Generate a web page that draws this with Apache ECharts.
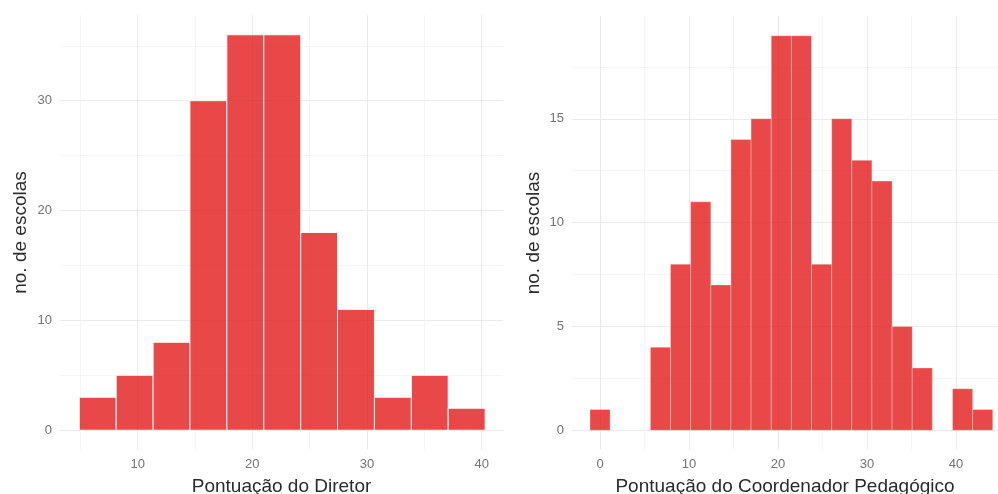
<!DOCTYPE html>
<html>
<head>
<meta charset="utf-8">
<script src="https://cdn.jsdelivr.net/npm/echarts@6/dist/echarts.min.js"></script>
<style>
  html, body { margin: 0; padding: 0; background: #fff; }
  #chart { width: 998px; height: 494px; }
</style>
</head>
<body>
<div id="chart"></div>
<script>
  // Pontuação do Diretor: limites das classes e contagens
  var diretorEdges = [4.91, 8.13, 11.35, 14.56, 17.78, 21.0, 24.22, 27.43, 30.65, 33.87, 37.08, 40.3]
  var diretorCounts = [3, 5, 8, 30, 36, 36, 18, 11, 3, 5, 2]
  var diretorXTicks = [10, 20, 30, 40]
  var diretorXMinor = [5, 15, 25, 35]
  var diretorYTicks = [0, 10, 20, 30]
  var diretorYMinor = [5, 15, 25, 35]

  // Pontuação do Coordenador Pedagógico
  var coordEdges = [-1.13, 1.13, 3.39, 5.66, 7.92, 10.18, 12.45, 14.71, 16.97, 19.24, 21.5,
    23.76, 26.03, 28.29, 30.55, 32.82, 35.08, 37.34, 39.61, 41.87, 44.13]
  var coordCounts = [1, 0, 0, 4, 8, 11, 7, 14, 15, 19, 19, 8, 15, 13, 12, 5, 3, 0, 2, 1]
  var coordXTicks = [0, 10, 20, 30, 40]
  var coordXMinor = [5, 15, 25, 35]
  var coordYTicks = [0, 5, 10, 15]
  var coordYMinor = [2.5, 7.5, 12.5, 17.5]

  var FONT = '"Liberation Sans", Arial, sans-serif'
  var chart = echarts.init(document.getElementById('chart'))

  function toBins(edges, counts) {
    var out = []
    for (var i = 0; i < counts.length; i++) {
      out.push([edges[i], edges[i + 1], counts[i]])
    }
    return out
  }

  function axis(dim, gridIndex, min, max, values, major, name, nameGap) {
    var a = {
      type: 'value',
      gridIndex: gridIndex,
      min: min,
      max: max,
      axisLine: { show: false },
      axisTick: { show: false, customValues: values },
      axisLabel: {
        show: major,
        customValues: values,
        color: '#727272',
        fontSize: 13,
        fontFamily: FONT,
        margin: 8
      },
      splitLine: {
        show: true,
        lineStyle: { color: major ? '#EBEBEB' : '#F3F3F3', width: major ? 1.1 : 0.8 }
      }
    }
    if (name) {
      a.name = name
      a.nameLocation = 'middle'
      a.nameGap = nameGap
      a.nameTextStyle = { color: '#2b2b2b', fontSize: 19, fontFamily: FONT }
    }
    a.position = dim === 'x' ? 'bottom' : 'left'
    return a
  }

  function histSeries(xIndex, yIndex, data, stroke) {
    return {
      type: 'custom',
      xAxisIndex: xIndex,
      yAxisIndex: yIndex,
      z: 3,
      data: data,
      encode: { x: [0, 1], y: 2 },
      renderItem: function (params, api) {
        if (api.value(2) <= 0) return
        var p0 = api.coord([api.value(0), api.value(2)])
        var p1 = api.coord([api.value(1), 0])
        return {
          type: 'rect',
          shape: { x: p0[0], y: p0[1], width: p1[0] - p0[0], height: p1[1] - p0[1] },
          style: { fill: 'rgba(228,26,28,0.8)', stroke: stroke, lineWidth: 1 }
        }
      }
    }
  }

  var option = {
    animation: false,
    grid: [
      { left: 60, width: 443, top: 15, bottom: 44, outerBoundsMode: 'none', containLabel: false },
      { left: 572, right: 0, top: 16, bottom: 44, outerBoundsMode: 'none', containLabel: false }
    ],
    xAxis: [
      axis('x', 0, 3.23, 41.86, diretorXTicks, true, 'Pontuação do Diretor', 27),
      axis('x', 0, 3.23, 41.86, diretorXMinor, false),
      axis('x', 1, -3.15, 44.72, coordXTicks, true, 'Pontuação do Coordenador Pedagógico', 27),
      axis('x', 1, -3.15, 44.72, coordXMinor, false)
    ],
    yAxis: [
      axis('y', 0, -1.8, 37.8, diretorYTicks, true, 'no. de escolas', 30),
      axis('y', 0, -1.8, 37.8, diretorYMinor, false),
      axis('y', 1, -0.95, 19.95, coordYTicks, true, 'no. de escolas', 29),
      axis('y', 1, -0.95, 19.95, coordYMinor, false)
    ],
    series: [
      histSeries(0, 0, toBins(diretorEdges, diretorCounts), 'rgba(255,255,255,0.9)'),
      histSeries(2, 2, toBins(coordEdges, coordCounts), 'rgba(255,255,255,0.3)')
    ]
  }
  chart.setOption(option)
</script>
</body>
</html>
